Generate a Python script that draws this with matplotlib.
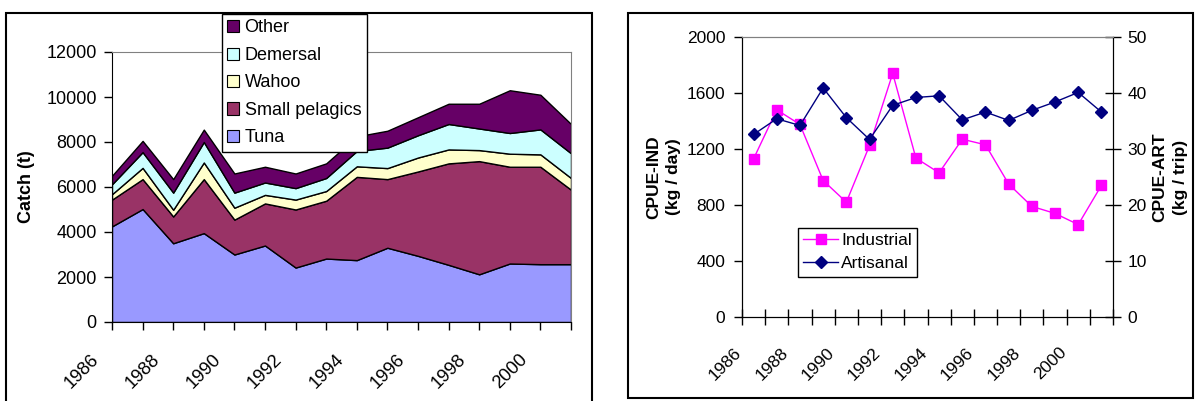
import matplotlib
matplotlib.use("Agg")
import matplotlib.pyplot as plt
from matplotlib.patches import Patch, Rectangle
from matplotlib.lines import Line2D
from matplotlib.transforms import ScaledTranslation

plt.rcParams['font.family'] = ['Liberation Sans', 'DejaVu Sans']

years = list(range(1986, 2002))
year_labels = [str(y) if y % 2 == 0 else '' for y in years]

# catch by group (t), stacked in this order
tuna = [4250, 5020, 3500, 3950, 3000, 3400, 2420, 2820, 2750, 3300, 2940, 2540, 2120, 2600, 2570, 2570]
small_pelagics = [1190, 1330, 1190, 2400, 1550, 1870, 2580, 2570, 3700, 3050, 3750, 4510, 5030, 4300, 4330, 3310]
wahoo = [240, 500, 300, 740, 530, 380, 440, 430, 470, 490, 620, 620, 490, 580, 550, 520]
demersal = [440, 700, 760, 910, 670, 550, 510, 580, 680, 910, 990, 1130, 960, 920, 1110, 1100]
other = [380, 500, 600, 550, 850, 700, 650, 650, 650, 750, 800, 900, 1100, 1900, 1540, 1300]

# CPUE
industrial = [1130, 1480, 1375, 975, 820, 1225, 1740, 1135, 1030, 1270, 1230, 950, 790, 740, 660, 940]
artisanal = [32.6, 35.4, 34.2, 40.9, 35.6, 31.7, 37.8, 39.2, 39.5, 35.2, 36.6, 35.1, 36.9, 38.4, 40.1, 36.6]

W, H = 1198, 401
fig = plt.figure(figsize=(W / 100, H / 100), dpi=100)


def fx(px):
    return px / W


def fy(py):
    return 1 - py / H


# outer chart frames
fig.patches.append(Rectangle((fx(6), fy(404)), fx(586), (404 - 13) / H, transform=fig.transFigure,
                             fill=False, edgecolor='black', linewidth=1.5))
fig.patches.append(Rectangle((fx(628), fy(398)), fx(565), (398 - 13) / H, transform=fig.transFigure,
                             fill=False, edgecolor='black', linewidth=1.5))

# ---------- left: catch ----------
ax = fig.add_axes([fx(112), fy(322), fx(571 - 112), (322 - 52) / H])
names = ['Tuna', 'Small pelagics', 'Wahoo', 'Demersal', 'Other']
colors = ['#9999FF', '#993366', '#FFFFCC', '#CCFFFF', '#660066']
x = list(range(len(years)))
ax.stackplot(x, tuna, small_pelagics, wahoo, demersal, other, colors=colors,
             edgecolor='black', linewidth=1.0)
ax.set_xlim(0, len(years) - 1)
ax.set_ylim(0, 12000)
ax.set_yticks(range(0, 12001, 2000))
ax.set_xticks(x)
ax.set_xticklabels(year_labels, rotation=45, ha='right', va='top')
ax.tick_params(axis='x', direction='out', length=6, width=1, pad=15, labelsize=13.2)
ax.tick_params(axis='y', direction='out', length=6, width=1, pad=5, labelsize=13)
for lab in ax.get_xticklabels():
    lab.set_transform(lab.get_transform() + ScaledTranslation(-0.10, 0, fig.dpi_scale_trans))
for s in ['top', 'right']:
    ax.spines[s].set_color('#808080')
ax.set_ylabel('Catch (t)', fontsize=13, fontweight='bold', labelpad=8)

handles = [Patch(facecolor=c, edgecolor='black', linewidth=0.8) for c in colors][::-1]
leg = ax.legend(handles, names[::-1], loc='upper left', bbox_to_anchor=(fx(222), fy(14)),
                bbox_transform=fig.transFigure, fontsize=13, frameon=True, fancybox=False,
                edgecolor='black', framealpha=1, handlelength=0.65, handleheight=0.65,
                handletextpad=0.3, labelspacing=0.58, borderpad=0.3, borderaxespad=0)
leg.get_frame().set_linewidth(1.0)

# ---------- right: CPUE ----------
ax2 = fig.add_axes([fx(742), fy(317), fx(1113 - 742), (317 - 37) / H])
pos = [i + 0.5 for i in range(len(years))]
ax2.plot(pos, industrial, color='#FF00FF', marker='s', markersize=7.5, linewidth=1.0,
         markeredgecolor='#FF00FF', label='Industrial')
ax2.set_xlim(0, len(years))
ax2.set_ylim(0, 2000)
ax2.set_yticks(range(0, 2001, 400))
ax2.set_xticks(range(len(years) + 1))
ax2.set_xticklabels([])
ax2.set_xticks(pos, minor=True)
ax2.set_xticklabels(year_labels, minor=True, rotation=45, ha='right', va='top')
ax2.tick_params(axis='x', which='major', direction='inout', length=12, width=1)
ax2.tick_params(axis='x', which='minor', length=0, pad=20, labelsize=12.5)
ax2.tick_params(axis='y', direction='out', length=6, width=1, pad=6, labelsize=12.5)
for lab in ax2.get_xticklabels(minor=True):
    lab.set_transform(lab.get_transform() + ScaledTranslation(-0.09, 0, fig.dpi_scale_trans))
ax2.spines['top'].set_color('#808080')
ax2.set_ylabel('CPUE-IND\n(kg / day)', fontsize=12.5, fontweight='bold', labelpad=4,
               linespacing=1.45)

ax3 = ax2.twinx()
ax3.plot(pos, artisanal, color='#000080', marker='D', markersize=6.5, linewidth=1.0,
         label='Artisanal')
ax3.set_ylim(0, 50)
ax3.set_yticks(range(0, 51, 10))
ax3.tick_params(axis='y', direction='inout', length=11, width=1, pad=5, labelsize=12.5)
ax3.spines['top'].set_color('#808080')
ax3.set_ylabel('CPUE-ART\n(kg / trip)', fontsize=12.5, fontweight='bold', labelpad=4,
               linespacing=1.45)

h2 = [Line2D([], [], color='#FF00FF', marker='s', markersize=7.5, linewidth=1.0),
      Line2D([], [], color='#000080', marker='D', markersize=6.5, linewidth=1.0)]
leg2 = ax3.legend(h2, ['Industrial', 'Artisanal'], loc='upper left',
                  bbox_to_anchor=(fx(798), fy(228)), bbox_transform=fig.transFigure,
                  fontsize=12.5, frameon=True, fancybox=False, edgecolor='black', framealpha=1,
                  handlelength=2.0, handletextpad=0.2, labelspacing=0.45, borderpad=0.3,
                  borderaxespad=0)
leg2.get_frame().set_linewidth(1.0)

fig.savefig('out.png', dpi=100)
